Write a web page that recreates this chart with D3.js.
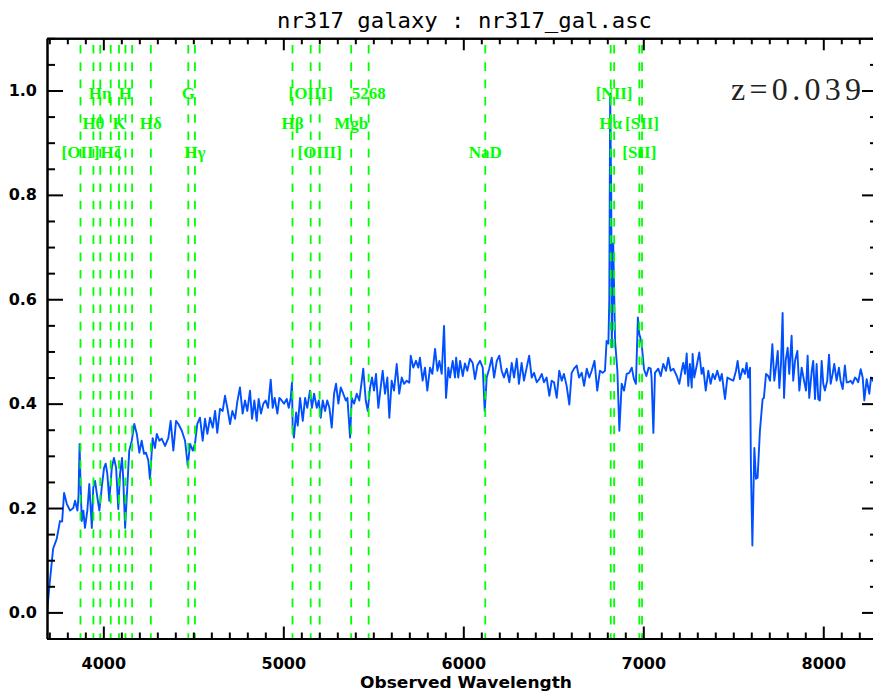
<!DOCTYPE html>
<html><head><meta charset="utf-8">
<script src="https://cdn.jsdelivr.net/npm/d3@7"></script>
<style>body{margin:0;background:#fff}svg{display:block}</style>
</head><body><svg id="c" width="873" height="700"></svg>
<script>
const title = "nr317 galaxy : nr317_gal.asc";
const xLabel = "Observed Wavelength";
const redshiftText = "z=0.039";
const xDomain = [3687, 8304];
const yDomain = [-0.05, 1.1];
const xTicks = [4000, 5000, 6000, 7000, 8000];
const xTickLabels = ["4000", "5000", "6000", "7000", "8000"];
const yTicks = [0.0, 0.2, 0.4, 0.6, 0.8, 1.0];
const yTickLabels = ["0.0", "0.2", "0.4", "0.6", "0.8", "1.0"];

const wavelength = [
3687,3703,3721,3741,3759,3771,3782,3797,3815,3833,3843,3856,3862,3868,3873,3880,3889,3898,3911,3922,
3936,3944,3954,3967,3978,3991,4004,4013,4022,4033,4047,4059,4071,4083,4093,4104,4111,4121,4133,4144,
4158,4172,4186,4200,4213,4226,4237,4250,4259,4274,4287,4297,4311,4324,4343,4361,4374,4389,4404,4417,
4436,4454,4469,4482,4497,4509,4522,
4537,4552,4565,4578,4593,4608,4621,4633,4648,4663,4676,4689,4704,4717,4732,4744,4759,4774,4787,4800,
4815,4826,4839,4852,4863,4876,4889,4902,4915,4930,4941,4952,4967,4978,4991,5004,5019,5030,5041,5048,
5052,5059,5071,5080,5093,5108,5121,5133,5148,5159,5171,5186,5197,5208,5219,5232,5244,5256,5269,5282,
5293,5306,5319,5333,5347,5356,5371,5380,5393,5408,5422,5436,5444,5458,5469,5482,5493,5504,5515,5528,
5541,5552,5565,5578,5589,5602,5615,5630,5644,5658,5671,5686,5700,5708,5722,5737,5750,5759,5774,5787,
5800,5815,5828,5843,5856,5867,5880,5893,5904,5917,5926,5941,5954,5960,5972,
5982,5997,6009,6022,6037,6052,6065,6078,6093,6108,6119,6130,6144,6158,6171,6186,6200,6213,6226,6241,
6256,6269,6282,6297,6309,6324,6337,6352,6366,6380,6393,6408,6422,6436,6448,6463,6478,6491,6504,6519,
6533,6547,6559,6574,6589,6602,6615,6630,6643,6658,6671,6686,6700,6713,6729,6744,6759,6774,6787,6796,
6806,6811,6816,6822,6825,6833,6839,6843,6856,6867,6880,6893,6908,6922,6936,6948,6959,6970,6978,6984,
6991,7004,7017,7030,7041,7046,7056,7065,7083,7097,7111,7126,7139,7152,7167,7186,7200,7213,7222,7232,
7241,7250,7259,7269,7274,7283,7297,7311,7324,7333,7347,7361,7374,7386,7398,7411,7426,7436,7454,7467,
7482,7500,7515,7524,7537,7552,7565,7574,7583,7593,7598,7606,7617,7626,7635,7648,7663,7670,7682,7694,
7704,7717,7728,7737,7747,7756,7765,7774,7782,7791,7802,7811,7824,7833,7843,7856,7867,7880,7893,7904,
7913,7922,7936,7944,7954,7963,7972,7981,7991,8000,8009,8022,8032,8041,8052,8061,8074,8087,8096,8108,
8120,8130,8139,8152,8163,8176,8185,8194,8208,8219,8228,8241,8256,8265,8276,8290,8304
];
const flux = [
0.000,0.060,0.122,0.141,0.175,0.174,0.229,0.208,0.195,0.200,0.214,0.195,0.223,0.323,0.252,0.175,0.195,0.162,0.195,0.246,
0.162,0.239,0.252,0.220,0.195,0.239,0.277,0.285,0.266,0.214,0.277,0.296,0.277,0.198,0.266,0.296,0.252,0.162,0.239,0.310,
0.329,0.361,0.342,0.306,0.329,0.304,0.306,0.291,0.256,0.334,0.315,0.342,0.329,0.333,0.319,0.334,0.367,0.310,0.367,0.361,
0.348,0.329,0.281,0.323,0.310,0.323,0.361,
0.373,0.329,0.371,0.342,0.373,0.354,0.386,0.344,0.390,0.386,0.415,0.392,0.361,0.386,0.371,0.403,0.431,0.381,0.406,0.386,
0.425,0.371,0.406,0.367,0.409,0.381,0.400,0.406,0.392,0.446,0.392,0.411,0.381,0.411,0.406,0.400,0.409,0.392,0.411,0.440,
0.354,0.335,0.383,0.358,0.411,0.367,0.411,0.392,0.425,0.392,0.419,0.392,0.406,0.373,0.406,0.386,0.406,0.392,0.354,0.419,
0.438,0.400,0.431,0.419,0.406,0.411,0.335,0.411,0.400,0.419,0.406,0.444,0.467,0.406,0.386,0.431,0.450,0.425,0.457,0.392,
0.431,0.463,0.419,0.450,0.373,0.444,0.425,0.476,0.419,0.450,0.438,0.444,0.440,0.492,0.469,0.482,0.469,0.488,0.444,0.469,
0.425,0.469,0.457,0.505,0.463,0.482,0.457,0.549,0.411,0.469,0.450,0.482,0.450,0.488,0.450,
0.482,0.453,0.477,0.463,0.486,0.478,0.447,0.473,0.482,0.469,0.386,0.450,0.467,0.488,0.450,0.482,0.492,0.463,0.450,0.467,
0.441,0.478,0.450,0.486,0.438,0.478,0.444,0.469,0.492,0.450,0.459,0.441,0.447,0.457,0.441,0.450,0.415,0.444,0.441,0.411,
0.463,0.444,0.457,0.434,0.398,0.459,0.467,0.473,0.450,0.459,0.434,0.467,0.450,0.463,0.482,0.425,0.463,0.459,0.463,0.520,
0.515,0.597,0.994,0.789,0.508,0.707,0.597,0.521,0.463,0.348,0.438,0.425,0.457,0.459,0.469,0.447,0.438,0.565,0.533,0.526,
0.514,0.466,0.453,0.469,0.467,0.450,0.344,0.459,0.467,0.453,0.476,0.463,0.488,0.463,0.467,0.453,0.438,0.463,0.478,0.457,
0.496,0.434,0.476,0.431,0.495,0.450,0.473,0.498,0.457,0.469,0.425,0.463,0.438,0.457,0.447,0.463,0.444,0.457,0.409,0.450,
0.447,0.444,0.463,0.482,0.447,0.467,0.457,0.478,0.450,0.469,0.277,0.128,0.315,0.256,0.258,0.348,0.409,0.411,0.457,0.453,
0.444,0.514,0.444,0.469,0.501,0.430,0.476,0.574,0.411,0.482,0.507,0.457,0.530,0.444,0.482,0.501,0.425,0.469,0.444,0.425,
0.492,0.411,0.463,0.482,0.409,0.476,0.409,0.406,0.482,0.438,0.425,0.444,0.494,0.438,0.457,0.476,0.444,0.469,0.444,0.428,
0.473,0.441,0.441,0.444,0.438,0.450,0.447,0.441,0.466,0.450,0.406,0.447,0.419,0.450,0.444,0.438,0.434
];

const lineWaves = [3873,3945,3983,4041,4087,4123,4160,4264,4472,4509,5051,5152,5202,5377,5474,6122,6819,6838,6978,6993];
const lineNames = ["[OII]","Hθ","Hη","Hζ","K","H","","Hδ","G","Hγ","Hβ","[OIII]","[OIII]","Mgb","5268","NaD","Hα","[NII]","[SII]","[SII]"];
const lineRows  = [3,2,1,3,2,1,3,2,1,3,2,1,3,2,1,3,2,1,3,2];

const svg = d3.select("#c");
const L = 47, R = 878, T = 38.3, B = 638.5;
const x = d3.scaleLinear().domain(xDomain).range([L, R]);
const y = d3.scaleLinear().domain(yDomain).range([B, T]);

svg.append("defs").append("clipPath").attr("id","clip")
  .append("rect").attr("x",L).attr("y",T).attr("width",R-L).attr("height",B-T);

const plot = svg.append("g").attr("clip-path","url(#clip)");

const pts = wavelength.map((w,i)=>[w, flux[i]]);
plot.append("path").datum(pts)
  .attr("d", d3.line().x(d=>x(d[0])).y(d=>y(d[1])))
  .attr("fill","none").attr("stroke","#0050ff").attr("stroke-width",1.9)
  .attr("stroke-linejoin","round");

plot.selectAll("line.mark").data(lineWaves).enter().append("line")
  .attr("class","mark")
  .attr("x1", d=>x(d)).attr("x2", d=>x(d))
  .attr("y1", y(yDomain[1])).attr("y2", y(yDomain[0]))
  .attr("stroke","#00ff00").attr("stroke-width",1.8)
  .attr("stroke-dasharray","8.6,8.7").attr("stroke-dashoffset",10.6);

const rowY = {1: 98.5, 2: 128.5, 3: 157.5};
svg.selectAll("text.lbl").data(lineWaves.map((w,i)=>({w, n: lineNames[i], r: lineRows[i]})).filter(d=>d.n))
  .enter().append("text").attr("class","lbl")
  .attr("x", d=>x(d.w)).attr("y", d=>rowY[d.r])
  .attr("text-anchor","middle")
  .attr("font-family","'Liberation Serif', serif").attr("font-size",17).attr("font-weight","bold")
  .attr("fill","#00ff00")
  .text(d=>d.n);

const minorX = d3.range(3700, 8301, 100).filter(v=>!xTicks.includes(v));
const minorY = d3.range(-0.05, 1.1001, 0.05).map(v=>+v.toFixed(2)).filter(v=>!yTicks.some(t=>Math.abs(t-v)<1e-6));

function styleAxis(g){
  g.selectAll("path.domain").attr("stroke","#000").attr("stroke-width",2);
  g.selectAll(".tick line").attr("stroke","#000").attr("stroke-width",2);
}
const tickFont = "'DejaVu Sans', sans-serif";

const gb = svg.append("g").attr("transform",`translate(0,${B})`)
  .call(d3.axisBottom(x).tickValues(xTicks).tickFormat((d,i)=>xTickLabels[i]).tickSize(-12).tickSizeOuter(0).tickPadding(19));
gb.call(styleAxis);
gb.selectAll("text").attr("font-family",tickFont).attr("font-size",16).attr("font-weight","bold").attr("fill","#000");
svg.append("g").attr("transform",`translate(0,${B})`)
  .call(d3.axisBottom(x).tickValues(minorX).tickFormat("").tickSize(-6).tickSizeOuter(0)).call(styleAxis);
svg.append("g").attr("transform",`translate(0,${T})`)
  .call(d3.axisTop(x).tickValues(xTicks).tickFormat("").tickSize(-12).tickSizeOuter(0)).call(styleAxis);
svg.append("g").attr("transform",`translate(0,${T})`)
  .call(d3.axisTop(x).tickValues(minorX).tickFormat("").tickSize(-6).tickSizeOuter(0)).call(styleAxis);
const gl = svg.append("g").attr("transform",`translate(${L},0)`)
  .call(d3.axisLeft(y).tickValues(yTicks).tickFormat((d,i)=>yTickLabels[i]).tickSize(-16).tickSizeOuter(0).tickPadding(10));
gl.call(styleAxis);
gl.selectAll("text").attr("font-family",tickFont).attr("font-size",16).attr("font-weight","bold").attr("fill","#000");
svg.append("g").attr("transform",`translate(${L},0)`)
  .call(d3.axisLeft(y).tickValues(minorY).tickFormat("").tickSize(-8).tickSizeOuter(0)).call(styleAxis);
svg.append("g").attr("transform",`translate(${R},0)`)
  .call(d3.axisRight(y).tickValues(yTicks).tickFormat("").tickSize(-16).tickSizeOuter(0)).call(styleAxis);
svg.append("g").attr("transform",`translate(${R},0)`)
  .call(d3.axisRight(y).tickValues(minorY).tickFormat("").tickSize(-8).tickSizeOuter(0)).call(styleAxis);

svg.append("text").attr("x",464.5).attr("y",28).attr("text-anchor","middle")
  .attr("font-family","'DejaVu Sans Mono', monospace").attr("font-size",22)
  .attr("textLength",375).attr("lengthAdjust","spacingAndGlyphs")
  .attr("fill","#000").text(title);

svg.append("text").attr("x",466).attr("y",687.5).attr("text-anchor","middle")
  .attr("font-family",tickFont).attr("font-size",16).attr("font-weight","bold")
  .attr("textLength",212).attr("lengthAdjust","spacingAndGlyphs")
  .attr("fill","#000").text(xLabel);

svg.append("text").attr("x",731).attr("y",99.5)
  .attr("font-family","'Liberation Serif', serif").attr("font-size",32)
  .attr("textLength",130).attr("lengthAdjust","spacing")
  .attr("fill","#222").text(redshiftText);
</script></body></html>
